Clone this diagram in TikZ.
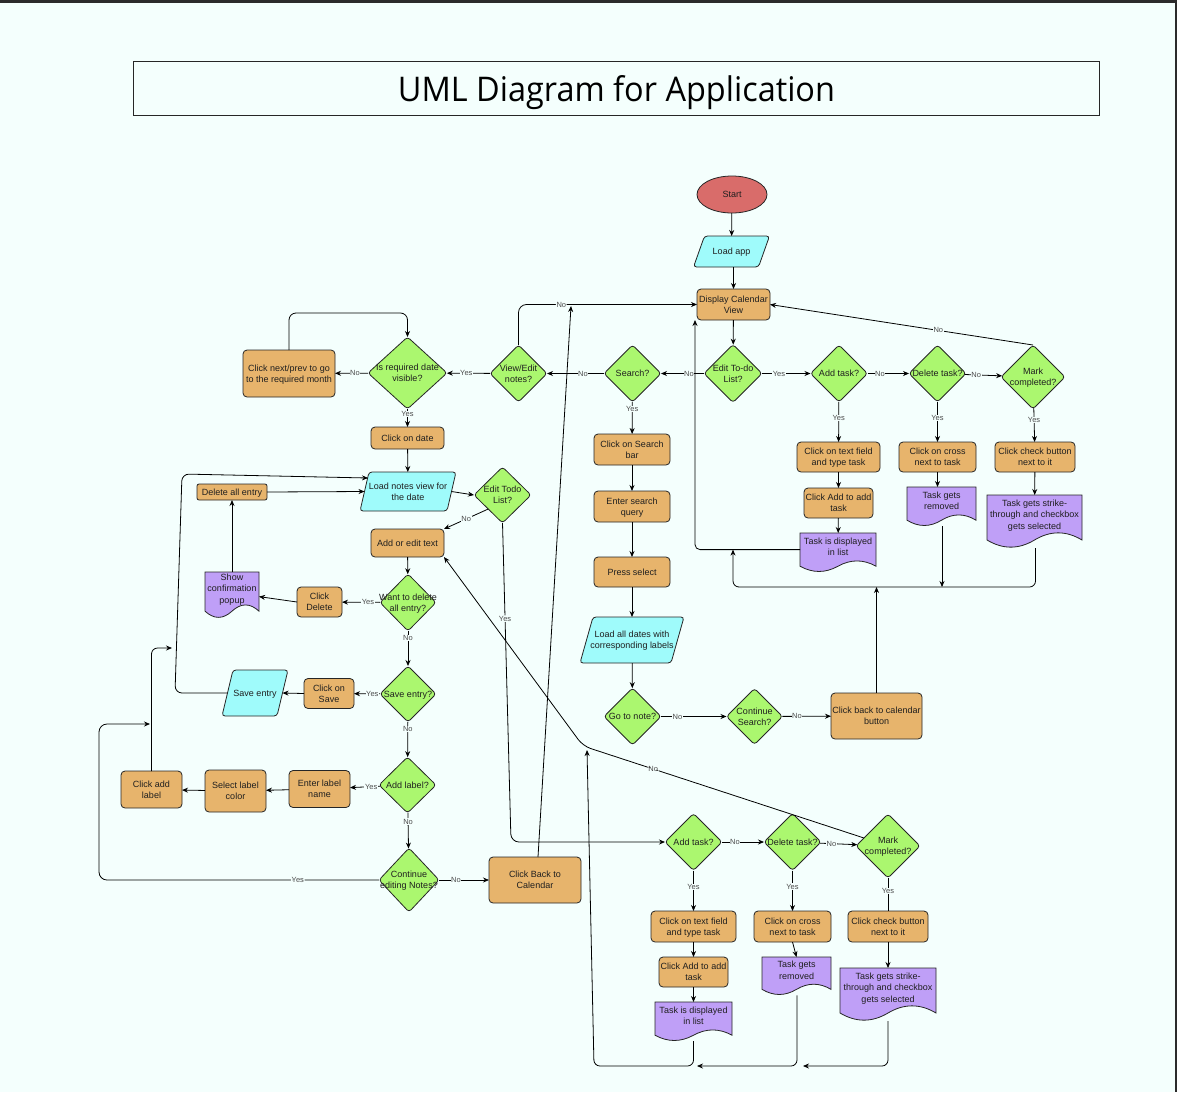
\documentclass[tikz,border=0pt]{standalone}
\usepackage{fontspec}
\usepackage{graphicx}
\setmainfont{Liberation Sans}
\newfontfamily\titlefont{Open Sans}
\usetikzlibrary{shapes.geometric,arrows.meta,calc}
\pgfdeclarelayer{bg}
\pgfsetlayers{bg,main}
\definecolor{bgc}{HTML}{F4FFFD}
\definecolor{orng}{HTML}{E7B46C}
\definecolor{grn}{HTML}{ABF76F}
\definecolor{cyn}{HTML}{9FFBFB}
\definecolor{purp}{HTML}{BF9FF7}
\definecolor{redc}{HTML}{D96C6A}
\definecolor{darkbar}{HTML}{2B2B2B}
\newcommand\tx[1]{\smash{\raisebox{-3.2pt}{\makebox[0pt]{\begin{tabular}{@{}c@{}}#1\end{tabular}}}}}
\newcommand\txd[1]{\smash{\raisebox{-0.2pt}{\makebox[0pt]{\begin{tabular}{@{}c@{}}#1\end{tabular}}}}}
\newcommand\docshape[1]{\path[docst] let \p1=(#1.north west), \p2=(#1.south east), \n1={0.353*(\y1-\y2)}, \n2={\x2-\x1} in
  (\x1,\y1) -- (\x2,\y1) -- (\x2,\y2)
  .. controls ({\x2-\n2/6},{\y2+0.6*\n1}) and ({\x1+2*\n2/3},{\y2+0.6*\n1}) .. ({\x1+\n2/2},\y2)
  .. controls ({\x1+\n2/3},{\y2-0.6*\n1}) and ({\x1+\n2/6},{\y2-0.6*\n1}) .. (\x1,\y2) -- cycle;}
\newcommand\parashape[2]{\path[parast] (#1.south west) -- ($(#1.north west)+(#2,0)$) -- (#1.north east) -- ($(#1.south east)+(-#2,0)$) -- cycle;}
\tikzset{
  nbase/.style={inner sep=0pt, outer sep=0pt, font=\fontsize{9}{11.3}\selectfont, text=black!88, draw=black!85, line width=0.8pt},
  sz/.style 2 args={minimum width=#1, minimum height=#2},
  proc/.style={nbase, rectangle, rounded corners=4pt, fill=orng},
  dia/.style={nbase, diamond, fill=grn, rounded corners=3pt},
  ell/.style={nbase, ellipse, fill=redc},
  docnode/.style={nbase, rectangle, draw=none},
  parnode/.style={nbase, rectangle, draw=none},
  docst/.style={fill=purp, draw=black!85, line width=0.8pt},
  parast/.style={fill=cyn, draw=black!85, line width=0.8pt, rounded corners=3pt},
  arr/.style={draw=black, line width=0.8pt, -{Stealth[length=6pt,width=5pt]}},
  plainln/.style={draw=black, line width=0.8pt},
  lbl/.style={font=\fontsize{7.5}{8}\selectfont, fill=bgc, inner sep=0.6pt, text=black!70},
}
\begin{document}
\begin{tikzpicture}[x=1pt,y=-1pt]
\begin{pgfonlayer}{bg}
\fill[bgc] (0,0) rectangle (1177,1092);
\fill[darkbar] (0,0) rectangle (1177,3);
\fill[darkbar] (1175,0) rectangle (1177,1092);
\end{pgfonlayer}
\useasboundingbox (0,0) rectangle (1177,1092);

% title
\node[draw=black!85, line width=0.9pt, inner sep=0pt, minimum width=966, minimum height=54] (titlebox) at (616,88) {};
\node[anchor=base, inner sep=0pt] (titletext) at (616.5,101) {\resizebox{437pt}{26pt}{\titlefont UML Diagram for Application}};

% main column
\node[ell, sz={70}{37}] (start) at (732,194.5) {\tx{Start}};
\node[parnode, sz={76}{31}] (loadapp) at (731.5,251.5) {\tx{Load app}};
\node[proc, sz={73}{31}] (disp) at (733.5,304.5) {\tx{Display Calendar\\View}};
\node[dia, sz={58}{58}] (edittodo) at (733,373.5) {\tx{Edit To-do\\List?}};
\node[dia, sz={57}{57}] (addA) at (839,373.5) {\tx{Add task?}};
\node[dia, sz={57}{57}] (delA) at (937.5,373.5) {\tx{Delete task?}};
\node[dia, sz={64}{64}] (markA) at (1033,377) {\tx{Mark\\completed?}};
\node[dia, sz={57}{57}] (search) at (632.5,373.5) {\tx{Search?}};
\node[dia, sz={57}{57}] (viewedit) at (518.5,373.5) {\tx{View/Edit\\notes?}};
\node[dia, sz={79}{72}] (isreq) at (407.5,373) {\tx{Is required date\\visible?}};
\node[proc, sz={92}{47}] (nextprev) at (289,373.5) {\tx{Click next/prev to go\\to the required month}};
\node[proc, sz={73}{22}] (clickdate) at (407.5,438) {\tx{Click on date}};
\node[parnode, sz={96}{39}] (loadnotes) at (408,491.5) {\tx{Load notes view for\\the date}};
\node[proc, sz={70}{16}, rounded corners=2pt] (delall) at (232,492) {\tx{Delete all entry}};
\node[dia, sz={57}{56}] (edittodoN) at (502.5,495) {\tx{Edit Todo\\List?}};
\node[proc, sz={73}{28}] (addedit) at (407.5,543) {\tx{Add or edit text}};
\node[dia, sz={56}{57}] (wantdel) at (408,602.5) {\tx{Want to delete\\all entry?}};
\node[proc, sz={45}{30}] (clickdel) at (319.5,602) {\tx{Click\\Delete}};
\node[docnode, sz={54}{39.1}] (showconf) at (232,591.6) {\txd{Show\\confirmation\\popup}};
\node[dia, sz={56}{56}] (saveq) at (408,694) {\tx{Save entry?}};
\node[proc, sz={50}{30}] (clicksave) at (329,693.5) {\tx{Click on\\Save}};
\node[parnode, sz={66}{46}] (saveentry) at (255,693) {\tx{Save entry}};
\node[dia, sz={57}{56}] (addlabel) at (407.5,785) {\tx{Add label?}};
\node[proc, sz={61}{37}] (enterlabel) at (319.5,789) {\tx{Enter label\\name}};
\node[proc, sz={61}{42}] (selectlabel) at (235.5,791) {\tx{Select label\\color}};
\node[proc, sz={61}{37}] (clickaddlabel) at (151.5,789.5) {\tx{Click add\\label}};
\node[dia, sz={60}{64}] (conted) at (409,880) {\tx{Continue\\editing Notes?}};
\node[proc, sz={92}{46}] (backcal) at (535,880) {\tx{Click Back to\\Calendar}};

% search branch
\node[proc, sz={76}{31}] (searchbar) at (632,449.5) {\tx{Click on Search\\bar}};
\node[proc, sz={76}{31}] (enterq) at (632,506.5) {\tx{Enter search\\query}};
\node[proc, sz={76}{30}] (pressel) at (632,572) {\tx{Press select}};
\node[parnode, sz={104}{46}] (loaddates) at (632,640) {\tx{Load all dates with\\corresponding labels}};
\node[dia, sz={57}{57}] (gotonote) at (632.5,716.5) {\tx{Go to note?}};
\node[dia, sz={56}{56}] (contsearch) at (754.5,716.5) {\tx{Continue\\Search?}};
\node[proc, sz={91}{46}] (clickback) at (876.5,716) {\tx{Click back to calendar\\button}};

% top todo branch
\node[proc, sz={83}{30}] (textA) at (838.5,457) {\tx{Click on text field\\and type task}};
\node[proc, sz={69}{30}] (clickaddA) at (838.5,503) {\tx{Click Add to add\\task}};
\node[docnode, sz={76}{33.2}] (dispA) at (838,549.6) {\txd{Task is displayed\\in list}};
\node[proc, sz={77}{30}] (crossA) at (937.5,457) {\tx{Click on cross\\next to task}};
\node[docnode, sz={69}{33.2}] (removedA) at (941.5,503.6) {\txd{Task gets\\removed}};
\node[proc, sz={80}{30}] (checkA) at (1035,457) {\tx{Click check button\\next to it}};
\node[docnode, sz={95}{45}] (strikeA) at (1034.5,517.5) {\txd{Task gets strike-\\through and checkbox\\gets selected}};

% bottom todo branch
\node[dia, sz={57}{57}] (addB) at (693.5,842) {\tx{Add task?}};
\node[dia, sz={57}{57}] (delB) at (792.5,842) {\tx{Delete task?}};
\node[dia, sz={64}{64}] (markB) at (888,846) {\tx{Mark\\completed?}};
\node[proc, sz={85}{31}] (textB) at (693.5,926.5) {\tx{Click on text field\\and type task}};
\node[proc, sz={69}{30}] (clickaddB) at (693.5,972) {\tx{Click Add to add\\task}};
\node[docnode, sz={77}{33.2}] (dispB) at (693.5,1018.6) {\txd{Task is displayed\\in list}};
\node[proc, sz={77}{31}] (crossB) at (792.5,926.5) {\tx{Click on cross\\next to task}};
\node[docnode, sz={69}{32.3}] (removedB) at (796.5,973.2) {\txd{Task gets\\removed}};
\node[proc, sz={80}{31}] (checkB) at (888,926.5) {\tx{Click check button\\next to it}};
\node[docnode, sz={96}{45}] (strikeB) at (888,990.5) {\txd{Task gets strike-\\through and checkbox\\gets selected}};

% custom shapes behind text
\begin{pgfonlayer}{bg}
\parashape{loadapp}{11}
\parashape{loadnotes}{9}
\parashape{loaddates}{13}
\parashape{saveentry}{11}
\docshape{showconf}
\docshape{dispA}
\docshape{removedA}
\docshape{strikeA}
\docshape{dispB}
\docshape{removedB}
\docshape{strikeB}
\end{pgfonlayer}

% junction coordinates
\coordinate (jA) at (733,587);
\coordinate (jV) at (571,305);
\coordinate (cY) at (511,842);
\coordinate (lA) at (175,693);
\coordinate (lB) at (182,474);
\coordinate (jS) at (172,648);
\coordinate (lC) at (99,880);
\coordinate (jT) at (150,724);
\coordinate (jB) at (594,1066);
\coordinate (jB1) at (697,1066);
\coordinate (jB2) at (803,1066);
\coordinate (jN) at (587,750);
\coordinate (cN) at (583,746);

% edges: top
\draw[arr] (start) -- (loadapp);
\draw[arr] (loadapp.south -| disp.north) -- (disp.north);
\draw[arr] (disp) -- (edittodo);
\draw[arr] (edittodo) -- node[lbl,pos=0.35]{Yes} (addA);
\draw[arr] (addA) -- node[lbl,pos=0.3]{No} (delA);
\draw[arr] (delA) -- node[lbl,pos=0.3]{No} (markA);
\draw[arr] (markA.north) -- node[lbl,pos=0.36]{No} (disp.east);
\draw[arr] (addA) -- node[lbl,pos=0.4]{Yes} (textA);
\draw[arr] (textA) -- (clickaddA);
\draw[arr] (clickaddA) -- (dispA);
\draw[arr] (delA) -- node[lbl,pos=0.4]{Yes} (crossA);
\draw[arr] (crossA.south) -- (crossA.south |- removedA.north);
\draw[arr] (markA) -- node[lbl,pos=0.35]{Yes} (checkA);
\draw[arr] (checkA) -- (strikeA);
\draw[arr, rounded corners=5] (dispA.west) -| ($(disp.south west)+(-2,0)$);
\draw[arr] ($(removedA.south)+(0.5,6)$) -- ($(removedA.south |- jA)+(0.5,0)$);
\draw[arr, rounded corners=6] ($(strikeA.south)+(1,8)$) |- (jA) -- (jA |- dispA.west);
\draw[arr] (clickback.north) -- (clickback.north |- jA);

% search
\draw[arr] (edittodo) -- node[lbl,pos=0.35]{No} (search);
\draw[arr] (search) -- node[lbl,pos=0.37]{No} (viewedit);
\draw[arr] (search) -- node[lbl,pos=0.22]{Yes} (searchbar);
\draw[arr] (searchbar) -- (enterq);
\draw[arr] (enterq) -- (pressel);
\draw[arr] (pressel) -- (loaddates);
\draw[arr] (loaddates) -- (gotonote);
\draw[arr] (gotonote) -- node[lbl,pos=0.25]{No} (contsearch);
\draw[arr] (contsearch) -- node[lbl,pos=0.3]{No} (clickback);

% notes
\draw[arr] (viewedit) -- node[lbl,pos=0.55]{Yes} (isreq);
\draw[arr, rounded corners=8] (viewedit.north) |- node[lbl,pos=0.62]{No} (disp.west);
\draw[arr] ($(backcal.north)+(3,0)$) -- ($(jV)+(0,1)$);
\draw[arr] (isreq) -- node[lbl,pos=0.4]{No} (nextprev);
\draw[arr, rounded corners=7] (nextprev.north) -- ++(0,-37) -| (isreq.north);
\draw[arr] (isreq) -- node[lbl,pos=0.28]{Yes} (clickdate);
\draw[arr] (clickdate) -- (loadnotes);
\draw[arr] (delall.east) -- ($(loadnotes.west)+(4.5,0)$);
\draw[arr] ($(loadnotes.east)+(-4.5,0)$) -- (edittodoN.west);
\draw[arr] (edittodoN.south west) -- node[lbl]{No} (addedit.north east);
\draw[arr, rounded corners=8] (edittodoN.south) -- node[lbl,pos=0.3]{Yes} (cY) -- (addB.west);
\draw[arr] (addedit) -- (wantdel);
\draw[arr] (wantdel) -- node[lbl,pos=0.32]{Yes} (clickdel);
\draw[arr] (clickdel.west) -- ($(showconf.east)+(0,5)$);
\draw[arr] (showconf.north) -- (delall.south);
\draw[arr] (wantdel) -- node[lbl,pos=0.2]{No} (saveq);
\draw[arr] (saveq) -- node[lbl,pos=0.3]{Yes} (clicksave);
\draw[arr] (clicksave.west) -- ($(saveentry.east)+(-5.5,0)$);
\draw[arr, rounded corners=7] ($(saveentry.west)+(5.5,0)$) -- (lA) -- (lB) -- ($(loadnotes.north west)+(8,6)$);
\draw[arr] (saveq) -- node[lbl,pos=0.2]{No} (addlabel);
\draw[arr] (addlabel) -- node[lbl,pos=0.3]{Yes} (enterlabel);
\draw[arr] (enterlabel) -- (selectlabel);
\draw[arr] (selectlabel) -- (clickaddlabel);
\draw[arr, rounded corners=6] (clickaddlabel.north) |- (jS);
\draw[arr] (addlabel) -- node[lbl,pos=0.25]{No} (conted);
\draw[arr, rounded corners=8] (conted.west) -- node[lbl,pos=0.29]{Yes} (lC) |- (jT);
\draw[arr] (conted) -- node[lbl,pos=0.34]{No} (backcal);

% bottom todo
\draw[arr] (addB) -- node[lbl,pos=0.31]{No} (delB);
\draw[arr] (delB) -- node[lbl,pos=0.31]{No} (markB);
\draw[arr] (addB) -- node[lbl,pos=0.41]{Yes} (textB);
\draw[arr] (textB) -- (clickaddB);
\draw[arr] (clickaddB) -- (dispB);
\draw[arr] (delB) -- node[lbl,pos=0.4]{Yes} (crossB);
\draw[arr] (crossB.south) -- (removedB.north);
\draw[plainln] (markB) -- node[lbl,pos=0.4]{Yes} (checkB);
\draw[arr] (checkB) -- (strikeB);
\draw[arr, rounded corners=6] ($(strikeB.south)+(0,8)$) |- (jB2);
\draw[arr, rounded corners=6] ($(removedB.south)+(0.5,6)$) |- (jB1);
\draw[arr, rounded corners=6] ($(dispB.south)+(0,6)$) |- (jB) -- (jN);
\draw[arr, rounded corners=8] ($(markB.west)!0.25!(markB.north)$) -- node[lbl,pos=0.75]{No} (cN) -- (addedit.south east);
\end{tikzpicture}
\end{document}
